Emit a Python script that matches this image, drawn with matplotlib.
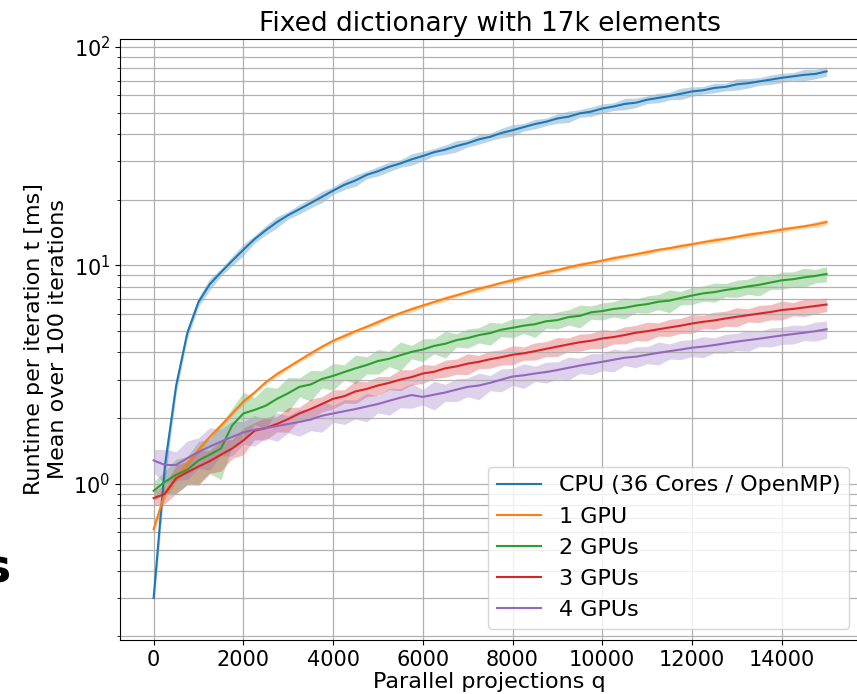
import numpy as np
import matplotlib
matplotlib.use("Agg")
import matplotlib.pyplot as plt

# parallel projections q (x positions of the measurements)
q = np.arange(0, 15001, 250)

# mean runtime per iteration [ms]
cpu = [0.30, 1.20, 2.8, 4.9, 6.8, 8.2, 9.3, 10.5, 11.8, 13.2,
       14.5, 15.8, 17.0, 18.1, 19.3, 20.6, 22.0, 23.4, 24.5, 26.0,
       27.0, 28.3, 29.3, 30.6, 31.7, 33.0, 33.9, 35.2, 36.3, 37.8,
       38.8, 40.4, 41.6, 43.0, 44.4, 45.5, 47.1, 48.0, 49.7, 50.6,
       52.3, 53.4, 54.9, 55.6, 57.4, 58.5, 59.7, 61.1, 62.6, 63.4,
       65.0, 65.7, 67.5, 68.3, 69.6, 70.9, 72.3, 73.4, 74.6, 75.3,
       77.4]
gpu1 = [0.62, 0.90, 1.06, 1.24, 1.43, 1.64, 1.85, 2.10, 2.38, 2.62,
        2.92, 3.18, 3.42, 3.68, 3.95, 4.24, 4.52, 4.75, 5.00, 5.24,
        5.50, 5.78, 6.05, 6.30, 6.55, 6.80, 7.05, 7.30, 7.56, 7.82,
        8.05, 8.32, 8.55, 8.82, 9.05, 9.30, 9.52, 9.80, 10.05, 10.28,
        10.52, 10.78, 11.02, 11.25, 11.50, 11.78, 12.00, 12.25, 12.50, 12.78,
        13.02, 13.25, 13.52, 13.80, 14.05, 14.30, 14.58, 14.85, 15.10, 15.40,
        15.80]
gpu2 = [0.93, 1.02, 1.10, 1.16, 1.28, 1.36, 1.45, 1.85, 2.10, 2.18,
        2.28, 2.45, 2.60, 2.78, 2.85, 3.02, 3.12, 3.25, 3.38, 3.50,
        3.65, 3.74, 3.88, 4.02, 4.12, 4.28, 4.38, 4.55, 4.65, 4.80,
        4.90, 5.08, 5.18, 5.30, 5.38, 5.55, 5.62, 5.80, 5.88, 6.10,
        6.18, 6.32, 6.40, 6.55, 6.65, 6.82, 6.90, 7.10, 7.28, 7.45,
        7.55, 7.72, 7.85, 8.02, 8.15, 8.35, 8.55, 8.65, 8.82, 8.95,
        9.15]
gpu3 = [0.86, 0.90, 1.06, 1.13, 1.20, 1.27, 1.36, 1.45, 1.58, 1.75,
        1.80, 1.88, 1.98, 2.10, 2.20, 2.32, 2.45, 2.52, 2.65, 2.72,
        2.82, 2.90, 3.00, 3.08, 3.20, 3.26, 3.38, 3.45, 3.55, 3.62,
        3.72, 3.80, 3.90, 3.96, 4.05, 4.15, 4.25, 4.35, 4.45, 4.52,
        4.63, 4.70, 4.80, 4.92, 5.00, 5.10, 5.20, 5.30, 5.42, 5.52,
        5.60, 5.72, 5.82, 5.92, 6.02, 6.12, 6.25, 6.32, 6.42, 6.52,
        6.62]
gpu4 = [1.28, 1.22, 1.22, 1.31, 1.40, 1.48, 1.56, 1.64, 1.72, 1.77,
        1.80, 1.84, 1.88, 1.92, 1.97, 2.05, 2.10, 2.15, 2.20, 2.26,
        2.32, 2.40, 2.48, 2.55, 2.50, 2.56, 2.62, 2.70, 2.78, 2.82,
        2.90, 3.00, 3.10, 3.14, 3.20, 3.25, 3.32, 3.40, 3.48, 3.55,
        3.62, 3.70, 3.78, 3.82, 3.90, 3.98, 4.05, 4.12, 4.20, 4.25,
        4.32, 4.40, 4.48, 4.55, 4.62, 4.70, 4.78, 4.85, 4.92, 5.00,
        5.10]

# relative spread (half width of the band) over the 100 iterations
cpu_spread = [0.12, 0.15, 0.08, 0.06, 0.05, 0.06, 0.04, 0.05, 0.06, 0.04,
              0.05, 0.06, 0.04, 0.05, 0.05, 0.06, 0.04, 0.05, 0.06, 0.04,
              0.05, 0.05, 0.04, 0.06, 0.05, 0.04, 0.05, 0.06, 0.04, 0.05,
              0.04, 0.05, 0.06, 0.04, 0.05, 0.04, 0.05, 0.06, 0.04, 0.05,
              0.05, 0.04, 0.06, 0.05, 0.04, 0.05, 0.04, 0.06, 0.05, 0.04,
              0.05, 0.04, 0.06, 0.05, 0.04, 0.05, 0.05, 0.04, 0.06, 0.05,
              0.05]
gpu1_spread = [0.06, 0.05, 0.04, 0.03, 0.03, 0.02, 0.03, 0.02, 0.03, 0.02,
               0.02, 0.03, 0.02, 0.02, 0.03, 0.02, 0.02, 0.03, 0.02, 0.02,
               0.03, 0.02, 0.02, 0.03, 0.02, 0.02, 0.03, 0.02, 0.02, 0.03,
               0.02, 0.02, 0.03, 0.02, 0.02, 0.03, 0.02, 0.02, 0.03, 0.02,
               0.02, 0.03, 0.02, 0.02, 0.03, 0.02, 0.02, 0.03, 0.02, 0.02,
               0.03, 0.02, 0.02, 0.03, 0.02, 0.02, 0.03, 0.02, 0.02, 0.03,
               0.03]
gpu2_spread = [0.10, 0.12, 0.18, 0.15, 0.22, 0.18, 0.28, 0.20, 0.25, 0.14,
               0.22, 0.12, 0.18, 0.10, 0.16, 0.09, 0.14, 0.08, 0.15, 0.09,
               0.13, 0.08, 0.15, 0.07, 0.12, 0.08, 0.14, 0.07, 0.10, 0.08,
               0.12, 0.07, 0.10, 0.08, 0.13, 0.07, 0.09, 0.08, 0.12, 0.07,
               0.09, 0.08, 0.11, 0.07, 0.09, 0.08, 0.12, 0.07, 0.09, 0.08,
               0.10, 0.07, 0.09, 0.08, 0.11, 0.07, 0.09, 0.08, 0.10, 0.07,
               0.08]
gpu3_spread = [0.08, 0.10, 0.15, 0.12, 0.18, 0.12, 0.16, 0.10, 0.14, 0.09,
               0.12, 0.08, 0.13, 0.07, 0.11, 0.08, 0.10, 0.07, 0.12, 0.08,
               0.10, 0.07, 0.11, 0.08, 0.10, 0.07, 0.09, 0.08, 0.11, 0.07,
               0.09, 0.08, 0.10, 0.07, 0.09, 0.08, 0.10, 0.07, 0.09, 0.08,
               0.10, 0.07, 0.09, 0.08, 0.10, 0.07, 0.09, 0.08, 0.10, 0.07,
               0.09, 0.08, 0.10, 0.07, 0.09, 0.08, 0.10, 0.07, 0.09, 0.08,
               0.07]
gpu4_spread = [0.12, 0.18, 0.15, 0.20, 0.16, 0.22, 0.14, 0.18, 0.12, 0.16,
               0.10, 0.15, 0.09, 0.14, 0.11, 0.16, 0.09, 0.13, 0.10, 0.15,
               0.09, 0.14, 0.10, 0.13, 0.08, 0.15, 0.09, 0.12, 0.10, 0.14,
               0.08, 0.12, 0.09, 0.13, 0.08, 0.11, 0.09, 0.12, 0.08, 0.11,
               0.09, 0.12, 0.08, 0.11, 0.09, 0.12, 0.08, 0.10, 0.09, 0.11,
               0.08, 0.10, 0.09, 0.11, 0.08, 0.10, 0.09, 0.10, 0.08, 0.10,
               0.09]

labels = ["CPU (36 Cores / OpenMP)", "1 GPU", "2 GPUs", "3 GPUs", "4 GPUs"]
series = [cpu, gpu1, gpu2, gpu3, gpu4]
spreads = [cpu_spread, gpu1_spread, gpu2_spread, gpu3_spread, gpu4_spread]
colors = ["tab:blue", "tab:orange", "tab:green", "tab:red", "tab:purple"]

fig = plt.figure(figsize=(8.57, 6.94), dpi=100)
# the axes run past the right border of the figure
ax = fig.add_axes([0.140, 0.078, 0.88, 0.866])

for y, s, c, lab in zip(series, spreads, colors, labels):
    y = np.array(y)
    s = np.array(s)
    ax.fill_between(q, y * (1 - s), y * (1 + s), color=c, alpha=0.3, lw=0)
    ax.plot(q, y, color=c, lw=1.5, label=lab)

ax.set_yscale("log")
ax.set_xlim(-750, 16060)
ax.set_ylim(0.193, 109)
ax.set_xticks(range(0, 15000, 2000))
ax.grid(True, which="major", color="#b0b0b0", lw=0.9)
ax.grid(True, which="minor", axis="y", color="#b0b0b0", lw=0.9)
ax.tick_params(labelsize=15)
ax.spines["right"].set_visible(False)

ax.set_title("Fixed dictionary with 17k elements", fontsize=19, x=0.49)
ax.set_xlabel("Parallel projections q", fontsize=16, labelpad=2, x=0.49)
ax.set_ylabel("Runtime per iteration t [ms]\nMean over 100 iterations", fontsize=16)
ax.legend(loc="lower right", fontsize=16, bbox_to_anchor=(0.982, 0.0))

fig.text(-0.021, 0.161, "s", fontsize=34, fontweight="bold")

fig.savefig("out.png", dpi=100)
